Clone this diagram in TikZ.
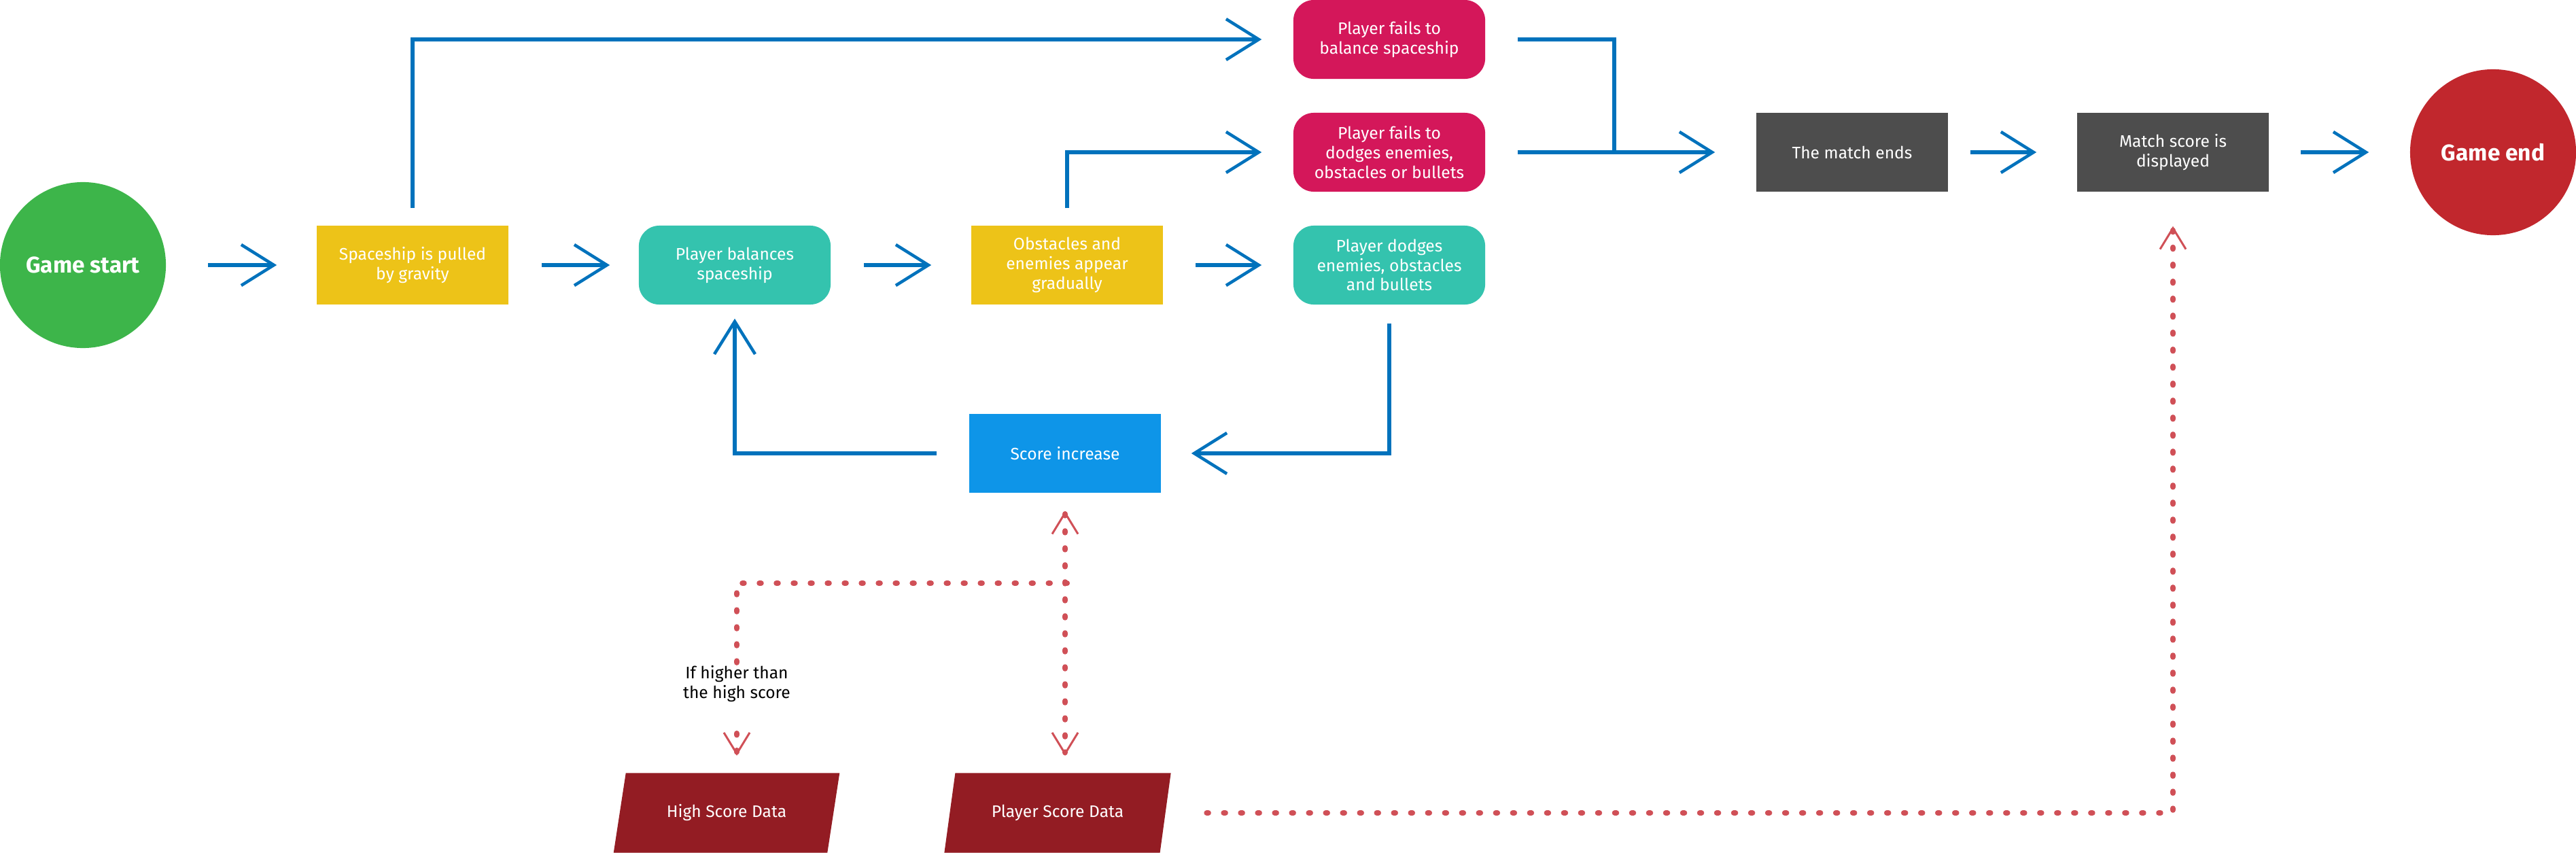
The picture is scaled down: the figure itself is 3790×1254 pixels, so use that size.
\documentclass[tikz,border=0pt]{standalone}
\usepackage{fontspec}
\setmainfont{Fira Sans}
\usetikzlibrary{positioning}
\usetikzlibrary{arrows.meta}
\usetikzlibrary{shapes.geometric}
\definecolor{startgreen}{RGB}{61,181,74}
\definecolor{endred}{RGB}{193,39,45}
\definecolor{stepyellow}{RGB}{237,195,24}
\definecolor{stepteal}{RGB}{52,195,174}
\definecolor{failpink}{RGB}{212,23,90}
\definecolor{enddark}{RGB}{77,77,77}
\definecolor{scoreblue}{RGB}{14,149,232}
\definecolor{datared}{RGB}{147,28,35}
\definecolor{flowblue}{RGB}{0,114,188}
\definecolor{datadash}{RGB}{208,80,87}
\tikzset{
        every node/.style={align=center,inner sep=0pt},
        terminal/.style={circle,minimum size=2.44cm,text=white,font=\fontsize{9.5}{11}\selectfont\bfseries},
        process/.style={rectangle,minimum width=2.82cm,minimum height=1.16cm,text=white,font=\fontsize{7}{8.2}\selectfont},
        action/.style={process,rounded corners=0.3cm},
        datastore/.style={trapezium,trapezium left angle=66.4,trapezium right angle=113.6,trapezium stretches=true,minimum width=3.34cm,minimum height=1.17cm,fill=datared,text=white,font=\fontsize{7}{8.2}\selectfont},
        flow/.style={draw=flowblue,line width=0.065cm,-{Straight Barb[length=4.8mm,width=6mm,line width=0.045cm]},shorten <=4.8mm,shorten >=4.8mm},
        flowline/.style={draw=flowblue,line width=0.065cm},
        databarb/.tip={Straight Barb[length=3.1mm,width=3.8mm,line width=0.03cm]},
        datalink/.style={draw=datadash,line width=0.08cm,line cap=round,dash pattern=on 0.025cm off 0.225cm,-databarb},
        }

\begin{document}
\begin{tikzpicture}[x=0.01cm,y=-0.01cm]
			\useasboundingbox (0,0) rectangle (3790,1254);

			% main row
			\node [terminal, fill=startgreen] (start) at (122,390) {Game start};
			\node [process, fill=stepyellow] (pull) at (607,390) {Spaceship is pulled\\by gravity};
			\node [action, fill=stepteal] (balance) at (1081,390) {Player balances\\spaceship};
			\node [process, fill=stepyellow] (appear) at (1570,390) {Obstacles and\\enemies appear\\gradually};
			\node [action, fill=stepteal] (dodge) at (2044,390) {Player dodges\\enemies, obstacles\\and bullets};

			% failing branch
			\node [action, fill=failpink] (failbal) at (2044,58) {Player fails to\\balance spaceship};
			\node [action, fill=failpink] (faildodge) at (2044,224) {Player fails to\\dodges enemies,\\obstacles or bullets};
			\node [process, fill=enddark] (matchend) at (2725,224) {The match ends};
			\node [process, fill=enddark] (showscore) at (3197,224) {Match score is\\displayed};
			\node [terminal, fill=endred] (end) at (3668,224) {Game end};

			% score loop
			\node [process, fill=scoreblue] (score) at (1567,667) {Score increase};

			% data
			\node [datastore] (hsdata) at (1069,1196) {High Score Data};
			\node [datastore] (psdata) at (1556,1196) {Player Score Data};
			\node [font=\fontsize{7}{8.5}\selectfont] (cond) at (1084,1006) {If higher than\\the high score};
			\coordinate (join) at (2375,224);
			\coordinate (fork) at (1570,858);

			% flow arrows
			\draw [flow, shorten <=6.1mm, shorten >=5.8mm] (start) -- (pull);
			\draw [flow, shorten >=4.2mm] (pull) -- (balance);
			\draw [flow, shorten >=5.8mm] (balance) -- (appear);
			\draw [flow, shorten <=4.7mm, shorten >=4.6mm] (appear) -- (dodge);
			\draw [flow, shorten <=2.5mm, shorten >=4.6mm] (pull.north) |- (failbal.west);
			\draw [flow, shorten <=2.5mm, shorten >=4.6mm] (appear.north) |- (faildodge.west);
			\draw [flowline, shorten <=4.7mm] (failbal.east) -| (join);
			\draw [flow, shorten <=4.7mm, shorten >=6mm] (faildodge) -- (matchend);
			\draw [flow, shorten <=3.2mm, shorten >=5.9mm] (matchend) -- (showscore);
			\draw [flow, shorten <=4.6mm, shorten >=6mm] (showscore) -- (end);
			\draw [flow, shorten <=2.7mm, shorten >=4.4mm] (dodge.south) |- (score.east);
			\draw [flow, shorten <=4.7mm, shorten >=2mm] (score.west) -| (balance.south);

			% data links
			\draw [datalink, databarb-databarb, shorten <=2.6mm, shorten >=2.5mm] (score.south) -- (score.south |- psdata.north);
			\draw [datalink, -] (fork) -| (cond.north);
			\draw [datalink, shorten <=4.5mm, shorten >=2.5mm] (cond.south) -- (cond.south |- hsdata.north);
			\draw [datalink, shorten <=6mm, shorten >=5mm] (psdata.east) -| (showscore.south);
		\end{tikzpicture}
\end{document}
